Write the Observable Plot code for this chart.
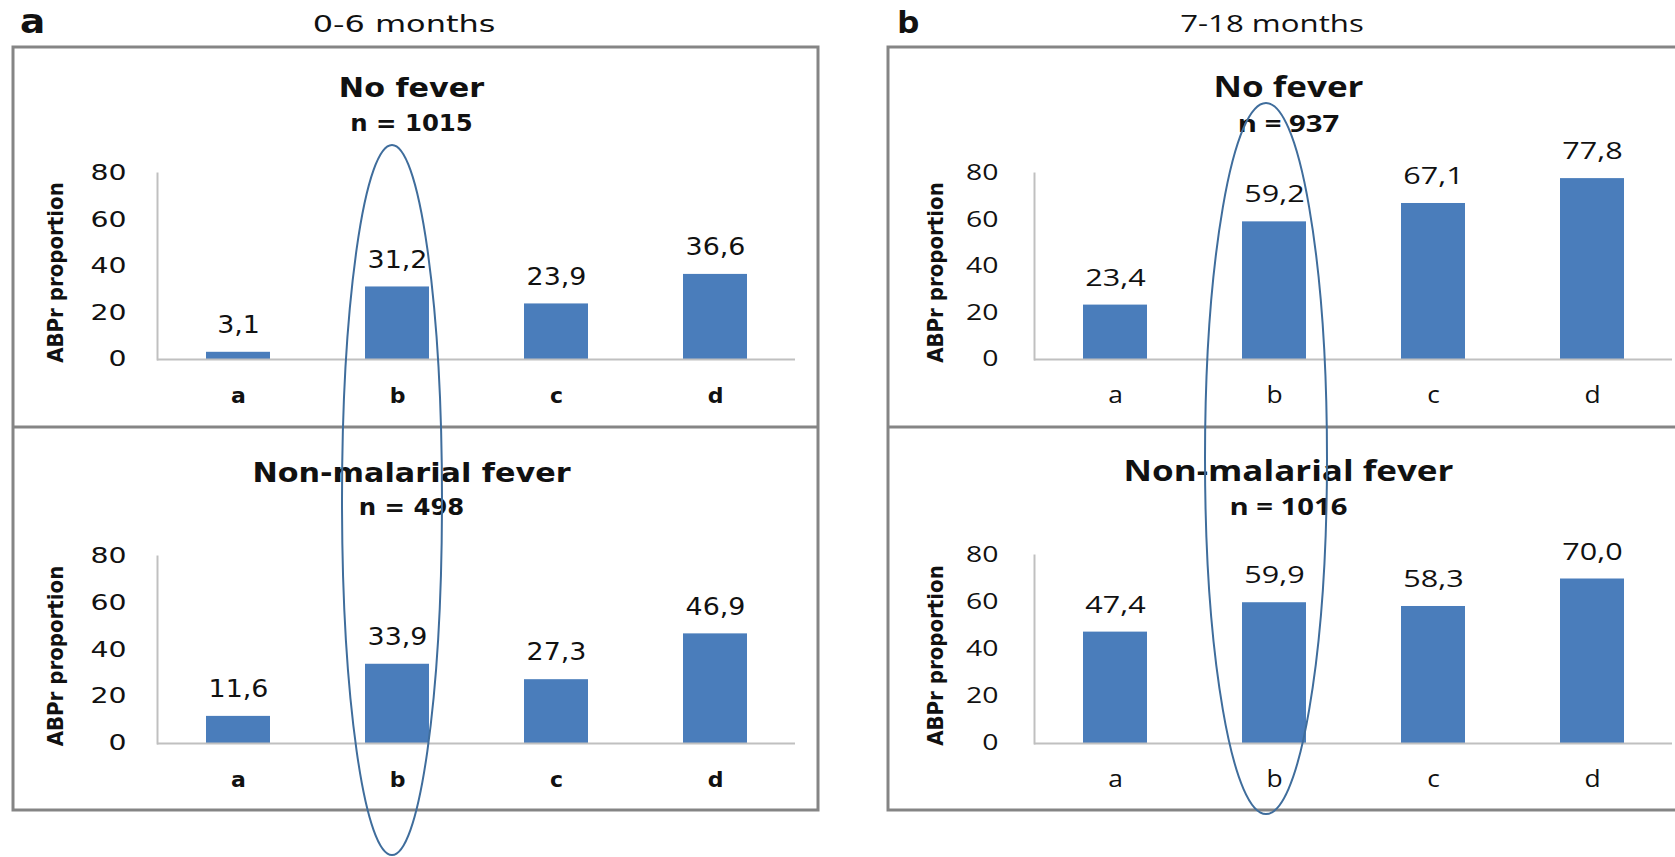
<!DOCTYPE html>
<html><head><meta charset="utf-8">
<script src="https://cdn.jsdelivr.net/npm/d3@7"></script>
<script src="https://cdn.jsdelivr.net/npm/@observablehq/plot@0.6"></script>
<style>
html,body{margin:0;padding:0;background:#fff;overflow:hidden;}
#fig{position:relative;width:1675px;height:857px;overflow:hidden;background:#fff;}
.chart{position:absolute;display:block;}
#overlay{position:absolute;left:0;top:0;pointer-events:none;}
</style></head><body><div id="fig"></div>
<script>
// ---- data ----
const categories = ["a", "b", "c", "d"];
const noFever06 = [3.1, 31.2, 23.9, 36.6];
const nonMalarial06 = [11.6, 33.9, 27.3, 46.9];
const noFever718 = [23.4, 59.2, 67.1, 77.8];
const nonMalarial718 = [47.4, 59.9, 58.3, 70.0];
const yTicks = [0, 20, 40, 60, 80];
const panelLetters = ["a", "b"];
const panelHeaders = ["0-6 months", "7-18 months"];
const subTitles = ["No fever", "Non-malarial fever"];
const nLabels06 = ["n = 1015", "n = 498"];
const nLabels718 = ["n = 937", "n = 1016"];
const yLabel = "ABPr proportion";
const highlighted = "b";

// ---- styles ----
const barColor = "#4a7dbb";
const axisColor = "#c0c0c0";
const textColor = "#111";
const boxColor = "#858585";
const ellipseColor = "#3f6d9c";

const styleA = {
  family: "'DejaVu Sans', Verdana, sans-serif",
  ticks: {size: 21, s: 1.35, w: "normal"}, values: {size: 24, s: 1.12, w: "normal"}, cats: {size: 22, s: 1.0, w: "bold"},
  title: {size: 27, s: 1.12, w: "bold"}, n: {size: 23, s: 1.06, w: "bold"},
  tickDx: -31, ylabDx: -102
};
const styleB = {
  family: "'Open Sans', sans-serif",
  ticks: {size: 21, s: 1.35, w: "normal"}, values: {size: 23.5, s: 1.3, w: "normal"}, cats: {size: 24, s: 1.1, w: "normal"},
  title: {size: 28, s: 1.25, w: "bold"}, n: {size: 24, s: 1.22, w: "bold"},
  tickDx: -36, ylabDx: -99
};
const ylabFamily = "'Liberation Sans Narrow', 'DejaVu Sans Condensed', 'Arial Narrow', sans-serif";

const fmt = v => v.toFixed(1).replace(".", ",");

function stretchGroup(g, s) {
  g.querySelectorAll("text").forEach(el => {
    const t = el.getAttribute("transform");
    if (t) el.setAttribute("transform", t + ` scale(${s},1)`);
    else {
      const x = +el.getAttribute("x") || 0, y = +el.getAttribute("y") || 0;
      el.setAttribute("transform", `translate(${x},${y}) scale(${s},1) translate(${-x},${-y})`);
    }
  });
}

function makeChart(values, title, nLabel, st, lay) {
  const data = categories.map((c, i) => ({cat: c, value: values[i]}));
  const fam = st.family;
  const textKeys = ["ticks", "values", "cats", "title", "n"];
  const svg = Plot.plot({
    width: lay.width, height: lay.height,
    marginLeft: lay.ml, marginRight: lay.mr, marginTop: lay.mt, marginBottom: lay.mb,
    x: {domain: categories, paddingInner: 0.6, paddingOuter: 0.3, axis: null},
    y: {domain: [0, 80], axis: null},
    style: {background: "transparent", overflow: "visible"},
    marks: [
      Plot.barY(data, {x: "cat", y: "value", fill: barColor}),
      Plot.ruleY([0], {stroke: axisColor, strokeWidth: 2}),
      Plot.frame({anchor: "left", stroke: axisColor, strokeWidth: 2}),
      Plot.text(yTicks, {y: d => d, text: d => String(d), frameAnchor: "left", dx: st.tickDx,
        textAnchor: "end", lineAnchor: "middle", fontSize: st.ticks.size, fontWeight: st.ticks.w, fontFamily: fam, fill: textColor}),
      Plot.text(data, {x: "cat", y: "value", text: d => fmt(d.value), dy: -27, lineAnchor: "middle",
        fontSize: st.values.size, fontWeight: st.values.w, fontFamily: fam, fill: textColor}),
      Plot.text(categories, {x: d => d, y: () => 0, text: d => d, dy: 36, lineAnchor: "middle",
        fontSize: st.cats.size, fontWeight: st.cats.w, fontFamily: fam, fill: textColor}),
      Plot.text([title], {text: d => d, frameAnchor: "top", dx: -65, dy: lay.titleDy, lineAnchor: "middle",
        fontSize: st.title.size, fontWeight: "bold", fontFamily: fam, fill: textColor}),
      Plot.text([nLabel], {text: d => d, frameAnchor: "top", dx: -65, dy: lay.nDy, lineAnchor: "middle",
        fontSize: st.n.size, fontWeight: "bold", fontFamily: fam, fill: textColor}),
      Plot.text([yLabel], {text: d => d, frameAnchor: "left", rotate: -90, dx: st.ylabDx, dy: 6, textAnchor: "middle",
        lineAnchor: "middle", fontSize: 22, fontWeight: "bold", fontFamily: ylabFamily, fill: textColor})
    ]
  });
  // mark groups in mark order: bar, rule, frame, ticks, values, cats, title, n, ylab
  const groups = Array.from(svg.children).filter(e => e.tagName.toLowerCase() === "g");
  const textGroups = groups.filter(g => g.querySelector("text"));
  textKeys.forEach((k, i) => { if (textGroups[i]) stretchGroup(textGroups[i], st[k].s); });
  svg.classList.add("chart");
  svg.style.left = lay.left + "px";
  svg.style.top = lay.top + "px";
  return svg;
}

const fig = document.getElementById("fig");
const layTopA = {left: 13, top: 47, width: 805, height: 380, ml: 144, mr: 23, mt: 126, mb: 68, titleDy: -85, nDy: -49.5};
const layBotA = {left: 13, top: 427, width: 805, height: 383, ml: 144, mr: 23, mt: 129, mb: 67, titleDy: -83.5, nDy: -48.5};
const layTopB = {left: 888, top: 47, width: 805, height: 380, ml: 146, mr: 21, mt: 126, mb: 68, titleDy: -85, nDy: -49.5};
const layBotB = {left: 888, top: 427, width: 805, height: 383, ml: 146, mr: 21, mt: 128, mb: 67, titleDy: -83.5, nDy: -48.5};

const cA1 = makeChart(noFever06, subTitles[0], nLabels06[0], styleA, layTopA);
const cA2 = makeChart(nonMalarial06, subTitles[1], nLabels06[1], styleA, layBotA);
const cB1 = makeChart(noFever718, subTitles[0], nLabels718[0], styleB, layTopB);
const cB2 = makeChart(nonMalarial718, subTitles[1], nLabels718[1], styleB, layBotB);
[cA1, cA2, cB1, cB2].forEach(c => fig.appendChild(c));

// ---- overlay: panel boxes, headers, highlight ellipses ----
const ov = d3.select(fig).append("svg").attr("id", "overlay").attr("width", 1675).attr("height", 857);
function box(x0, x1) {
  ov.append("rect").attr("x", x0).attr("y", 47).attr("width", x1 - x0).attr("height", 763)
    .attr("fill", "none").attr("stroke", boxColor).attr("stroke-width", 3);
  ov.append("line").attr("x1", x0).attr("x2", x1).attr("y1", 427).attr("y2", 427)
    .attr("stroke", boxColor).attr("stroke-width", 3);
}
box(13, 818);
box(888, 1693);

function header(text, x, y, size, family, weight, anchor, s) {
  ov.append("text").text(text).attr("font-size", size).attr("font-family", family)
    .attr("font-weight", weight).attr("text-anchor", anchor).attr("fill", textColor)
    .attr("transform", `translate(${x},${y}) scale(${s},1)`);
}
header(panelLetters[0], 20, 33, 34, styleA.family, "bold", "start", 1.1);
header(panelHeaders[0], 404, 32, 23, styleA.family, "normal", "middle", 1.39);
header(panelLetters[1], 897, 33, 31, styleB.family, "bold", "start", 1.15);
header(panelHeaders[1], 1272, 32, 24, styleB.family, "normal", "middle", 1.3);

function ellipseFor(chart, lay, offset, cy, rx, ry) {
  const sx = chart.scale("x");
  const cx = lay.left + sx.apply(highlighted) + sx.bandwidth / 2 + offset;
  ov.append("ellipse").attr("cx", cx).attr("cy", cy).attr("rx", rx).attr("ry", ry)
    .attr("fill", "none").attr("stroke", ellipseColor).attr("stroke-width", 2);
}
ellipseFor(cA1, layTopA, -5, 500, 50, 355);
ellipseFor(cB1, layTopB, -8, 458.5, 61, 355.5);
</script></body></html>
